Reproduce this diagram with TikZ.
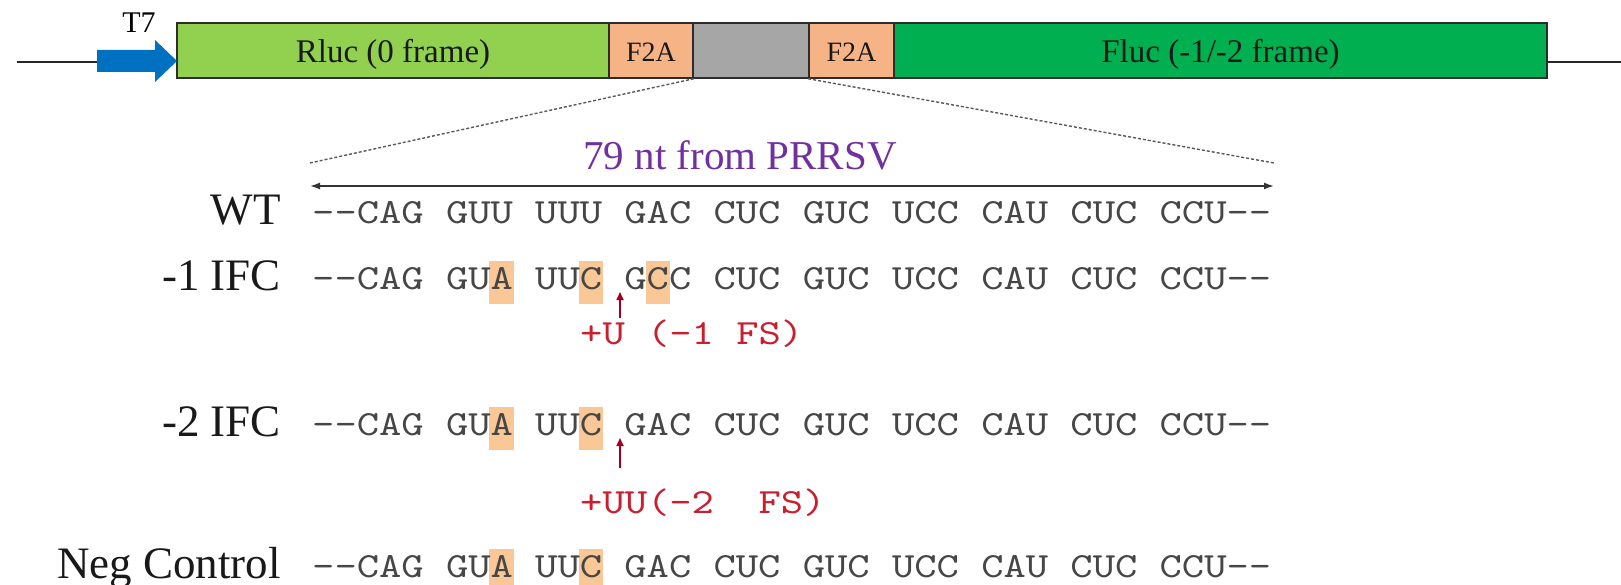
\documentclass[tikz,border=0pt]{standalone}
\usepackage{fontspec}
\setmainfont{Liberation Serif}
\newfontfamily\seqfont{lmmono10-regular.otf}[FakeStretch=1.2]
\usetikzlibrary{arrows.meta}
\definecolor{rlucG}{RGB}{146,208,80}
\definecolor{flucG}{RGB}{0,176,80}
\definecolor{ftwoa}{RGB}{246,180,134}
\definecolor{grayseg}{RGB}{166,166,166}
\definecolor{tsblue}{RGB}{0,112,192}
\definecolor{purp}{RGB}{112,48,160}
\definecolor{redtxt}{RGB}{200,30,45}
\definecolor{redarr}{RGB}{160,0,30}
\definecolor{hlcol}{RGB}{250,200,150}
\definecolor{seqgray}{RGB}{70,70,70}
\definecolor{edgecol}{RGB}{45,45,45}
\newcommand\hlbox[2]{\fill[hlcol] ({311+#1*22.3},{#2-28}) rectangle ++(24.3,43);}
\begin{document}
\begin{tikzpicture}[x=1pt,y=-1pt,
  seg/.style={draw=edgecol,line width=1.5pt,minimum height=55pt,inner sep=0pt,text height=28pt,text depth=3pt,text=black!90,font=\fontsize{33}{33}\selectfont},
  segsmall/.style={seg,text height=24pt,text depth=2.4pt,font=\fontsize{28}{28}\selectfont},
  seqtext/.style={anchor=base west,inner sep=0pt,text=seqgray,font=\seqfont\fontsize{35.4}{40}\selectfont},
  redtext/.style={anchor=base west,inner sep=0pt,text=redtxt,font=\seqfont\fontsize{35.4}{40}\selectfont},
  rowlabel/.style={anchor=base east,inner sep=0pt,text=black!90,font=\fontsize{45}{46}\selectfont},
  dashline/.style={draw=black!65,line width=1.4pt,dash pattern=on 3pt off 2pt},
  redarrow/.style={draw=redarr,line width=1.6pt,-{Triangle[length=8pt,width=7pt]}},
  backbone/.style={draw=black!85,line width=1.8pt}]
\useasboundingbox (0,0) rectangle (1621,585);
% backbone
\coordinate (lstart) at (17,62);
\coordinate (larrow) at (97,62);
\coordinate (rend) at (1621,62);
\draw[backbone] (lstart) -- (larrow);
% boxes
\node[seg,fill=rlucG,minimum width=432pt] (rluc) at (393,50.5) {Rluc (0 frame)};
\node[segsmall,fill=ftwoa,minimum width=84pt] (fa) at (651,50.5) {F2A};
\node[seg,fill=grayseg,minimum width=116pt] (gseg) at (751,50.5) {};
\node[segsmall,fill=ftwoa,minimum width=85pt] (fb) at (851.5,50.5) {F2A};
\node[seg,fill=flucG,minimum width=653pt] (fluc) at (1220.5,50.5) {Fluc (-1/-2 frame)};
\draw[backbone] (fluc.east |- rend) -- (rend);
% T7 arrow
\fill[tsblue] (97,50) -- (155,50) -- (155,40) -- (177,61) -- (155,82) -- (155,72) -- (97,72) -- cycle;
\node[font=\fontsize{30}{30}\selectfont,inner sep=0pt] (t7) at (139,23) {T7};
% zoom lines
\coordinate (dl) at (310,163);
\coordinate (dr) at (1274,163);
\draw[dashline] (fa.south east) -- (dl);
\draw[dashline] (fb.south west) -- (dr);
% title and span arrow
\node[text=purp,font=\fontsize{41}{42}\selectfont,inner sep=0pt] (title) at (740,155) {79 nt from PRRSV};
\coordinate (al) at (310,186);
\coordinate (ar) at (1274,186);
\draw[draw=black!80,line width=1.5pt,{Latex[length=10pt,width=7pt]}-{Latex[length=10pt,width=7pt]}] (al) -- (ar);
% highlights
\hlbox{8}{289}\hlbox{12}{289}\hlbox{15}{289}
\hlbox{8}{435}\hlbox{12}{435}
\hlbox{8}{577}\hlbox{12}{577}
% rows
\node[rowlabel] (lwt) at (281,225) {WT};
\node[seqtext] (swt) at (312,224) {--CAG GUU UUU GAC CUC GUC UCC CAU CUC CCU--};
\node[rowlabel] (lm1) at (281,290) {-1 IFC};
\node[seqtext] (sm1) at (312,289) {--CAG GUA UUC GCC CUC GUC UCC CAU CUC CCU--};
\coordinate (a1s) at (620,318);
\coordinate (a1e) at (620,292);
\draw[redarrow] (a1s) -- (a1e);
\node[redtext] (r1) at (580,344) {+U (-1 FS)};
\node[rowlabel] (lm2) at (281,436) {-2 IFC};
\node[seqtext] (sm2) at (312,435) {--CAG GUA UUC GAC CUC GUC UCC CAU CUC CCU--};
\coordinate (a2s) at (620,468);
\coordinate (a2e) at (620,438);
\draw[redarrow] (a2s) -- (a2e);
\node[redtext] (r2) at (580,513) {+UU(-2~~FS)};
\node[rowlabel] (lneg) at (281,578) {Neg Control};
\node[seqtext] (sneg) at (312,577) {--CAG GUA UUC GAC CUC GUC UCC CAU CUC CCU--};
\end{tikzpicture}
\end{document}
